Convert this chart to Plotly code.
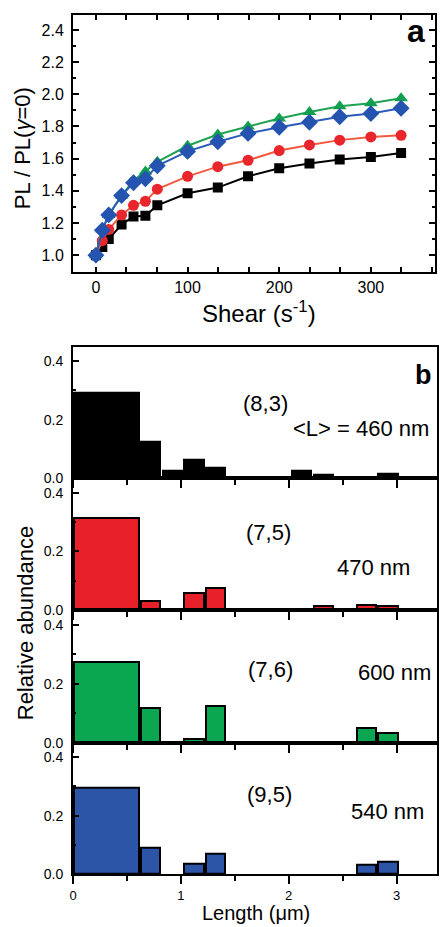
import plotly.graph_objects as go

# ---------------- data ----------------
# Panel a: PL ratio vs shear rate
shear = [0, 7, 14, 28, 41, 54, 67, 100, 133, 166, 200, 233, 266, 300, 333]
pl_83 = [1.00, 1.05, 1.10, 1.19, 1.24, 1.245, 1.31, 1.385, 1.42, 1.49, 1.54, 1.57, 1.595, 1.61, 1.635]
pl_75 = [1.00, 1.09, 1.16, 1.25, 1.31, 1.335, 1.41, 1.49, 1.55, 1.59, 1.65, 1.685, 1.715, 1.735, 1.745]
pl_76 = [1.00, 1.16, 1.25, 1.37, 1.465, 1.52, 1.58, 1.68, 1.75, 1.80, 1.85, 1.89, 1.925, 1.945, 1.975]
pl_95 = [1.00, 1.155, 1.25, 1.37, 1.45, 1.475, 1.555, 1.645, 1.705, 1.757, 1.795, 1.826, 1.86, 1.88, 1.913]

# Panel b: length histograms (bin edges in um)
bin_lo = [0.0, 0.62, 0.82, 1.02, 1.22, 1.42, 1.62, 1.82, 2.02, 2.22, 2.42, 2.62, 2.82]
bin_hi = [0.62, 0.82, 1.02, 1.22, 1.42, 1.62, 1.82, 2.02, 2.22, 2.42, 2.62, 2.82, 3.02]
ab_83 = [0.291, 0.123, 0.025, 0.062, 0.037, 0, 0, 0, 0.025, 0.012, 0, 0, 0.016]
ab_75 = [0.313, 0.030, 0, 0.057, 0.076, 0, 0.005, 0, 0, 0.015, 0, 0.016, 0.015]
ab_76 = [0.272, 0.117, 0, 0.012, 0.125, 0, 0, 0, 0, 0, 0, 0.049, 0.034]
ab_95 = [0.296, 0.089, 0, 0.034, 0.071, 0, 0, 0, 0, 0, 0, 0.031, 0.042]

species = ["(8,3)", "(7,5)", "(7,6)", "(9,5)"]
mean_len = ["<L> = 460 nm", "470 nm", "600 nm", "540 nm"]

# ---------------- layout geometry ----------------
W, H = 441, 927
L, R, T, B = 73, 2, 15, 53
PW, PH = W - L - R, H - T - B


def px_x(px):
    return (px - L) / PW


def px_y(py):
    return (H - B - py) / PH


FONT = "Liberation Sans, Arial, Helvetica, sans-serif"

fig = go.Figure()

# ---- panel a ----
line_specs = [
    (pl_83, "#000000", "#000000", "square", 10),
    (pl_75, "#f25a40", "#e8262b", "circle", 11),
    (pl_76, "#1fa352", "#12a04e", "triangle-up", 12),
    (pl_95, "#2b5cba", "#2553b0", "diamond", 13),
]
for ys, lc, mc, sym, sz in line_specs:
    fig.add_trace(go.Scatter(
        x=shear, y=ys, mode="lines+markers",
        line=dict(color=lc, width=2),
        marker=dict(color=mc, symbol=sym, size=sz, line=dict(width=0)),
        xaxis="x", yaxis="y", showlegend=False,
    ))

# ---- panel b ----
bar_colors = ["#000000", "#e8202a", "#0aa650", "#2c55a8"]
series = [ab_83, ab_75, ab_76, ab_95]
GAP = 0.02
for i, (vals, col) in enumerate(zip(series, bar_colors)):
    xs, ws, vs = [], [], []
    for lo, hi, v in zip(bin_lo, bin_hi, vals):
        if v > 0:
            xs.append(lo)
            ws.append(hi - lo - GAP)
            vs.append(v)
    ax = i + 2
    fig.add_trace(go.Bar(
        x=xs, y=vs, width=ws, offset=GAP / 2,
        marker=dict(color=col, line=dict(color="#000000", width=2)),
        xaxis=f"x{ax}", yaxis=f"y{ax}", showlegend=False,
    ))

axis_common = dict(showgrid=False, zeroline=False, showline=True,
                   linecolor="black", linewidth=2, tickcolor="black",
                   tickwidth=1.5, tickfont=dict(family=FONT, size=15, color="black"))

layout = dict(
    width=W, height=H,
    margin=dict(l=L, r=R, t=T, b=B),
    paper_bgcolor="white", plot_bgcolor="white",
    font=dict(family=FONT, color="black"),
    bargap=0,
)

layout["xaxis"] = dict(axis_common, domain=[0, px_x(437)], anchor="y",
                       range=[-25, 370], tick0=0, dtick=100, ticks="inside",
                       ticklen=5, mirror="ticks",
                       minor=dict(dtick=100 / 3, tick0=0, ticks="inside", ticklen=5,
                                  tickwidth=1.5, tickcolor="black"),
                       tickfont=dict(family=FONT, size=16, color="black"),
                       ticklabelstandoff=0)
layout["yaxis"] = dict(axis_common, domain=[px_y(271.7), 1], anchor="x",
                       range=[0.897, 2.493], tick0=0, dtick=0.2, tickformat=".1f",
                       ticks="inside", ticklen=6, mirror="ticks",
                       minor=dict(dtick=0.1, ticks="inside", ticklen=3,
                                  tickwidth=1.5, tickcolor="black"),
                       tickfont=dict(family=FONT, size=16, color="black"),
                       ticklabelstandoff=4)

bounds = [346.7, 478, 610, 742.7, 874]
for i in range(4):
    ax = i + 2
    layout[f"xaxis{ax}"] = dict(axis_common, domain=[0, px_x(439)], anchor=f"y{ax}",
                                range=[0, 3.375], tick0=0, dtick=1, ticks="outside",
                                ticklen=8, mirror=True,
                                minor=dict(dtick=0.5, ticks="outside", ticklen=5,
                                           tickwidth=1.5, tickcolor="black"),
                                showticklabels=(i == 3),
                                tickfont=dict(family=FONT, size=13, color="black"),
                                ticklabelstandoff=0)
    layout[f"yaxis{ax}"] = dict(axis_common, domain=[px_y(bounds[i + 1]), px_y(bounds[i])],
                                anchor=f"x{ax}", range=[0, 0.45], tick0=0, dtick=0.2,
                                tickformat=".1f", ticks="inside", ticklen=6, mirror=True,
                                minor=dict(dtick=0.1, ticks="inside", ticklen=3,
                                           tickwidth=1.5, tickcolor="black"),
                                tickfont=dict(family=FONT, size=14, color="black"),
                                ticklabelstandoff=5)

# top ticks of panel b (pointing inward)
layout["xaxis6"] = dict(overlaying="x2", side="top", anchor="y2", range=[0, 3.375],
                        showgrid=False, zeroline=False, showline=False,
                        tick0=0, dtick=1, ticks="inside", ticklen=8, tickwidth=1.5,
                        tickcolor="black", showticklabels=False,
                        minor=dict(dtick=0.5, ticks="inside", ticklen=5,
                                   tickwidth=1.5, tickcolor="black"))

fig.update_layout(**layout)

ann = []


def add_text(text, px, py, size, angle=0, bold=False):
    ann.append(dict(text=f"<b>{text}</b>" if bold else text,
                    x=px_x(px), y=px_y(py), xref="paper", yref="paper",
                    xanchor="center", yanchor="middle", showarrow=False,
                    textangle=angle, font=dict(family=FONT, size=size, color="black")))


add_text("PL / PL(<i>γ</i>=0)", 23, 148, 22, angle=-90)
add_text("Shear (s<sup>-1</sup>)", 260, 312, 24)
add_text("Relative abundance", 25, 623, 22, angle=-90)
add_text("Length (μm)", 257, 913, 20)
add_text("a", 418, 31, 32, bold=True)
add_text("b", 425, 375, 27, bold=True)

sp_pos = [(267, 404), (270, 532), (272, 669), (271, 794)]
ml_pos = [(363, 428), (375, 568), (396, 672), (389, 811)]
for s, (sx, sy), m, (mx, my) in zip(species, sp_pos, mean_len, ml_pos):
    add_text(s, sx, sy, 22)
    add_text(m, mx, my, 22)

fig.update_layout(annotations=ann)
fig.write_html("out.html")
